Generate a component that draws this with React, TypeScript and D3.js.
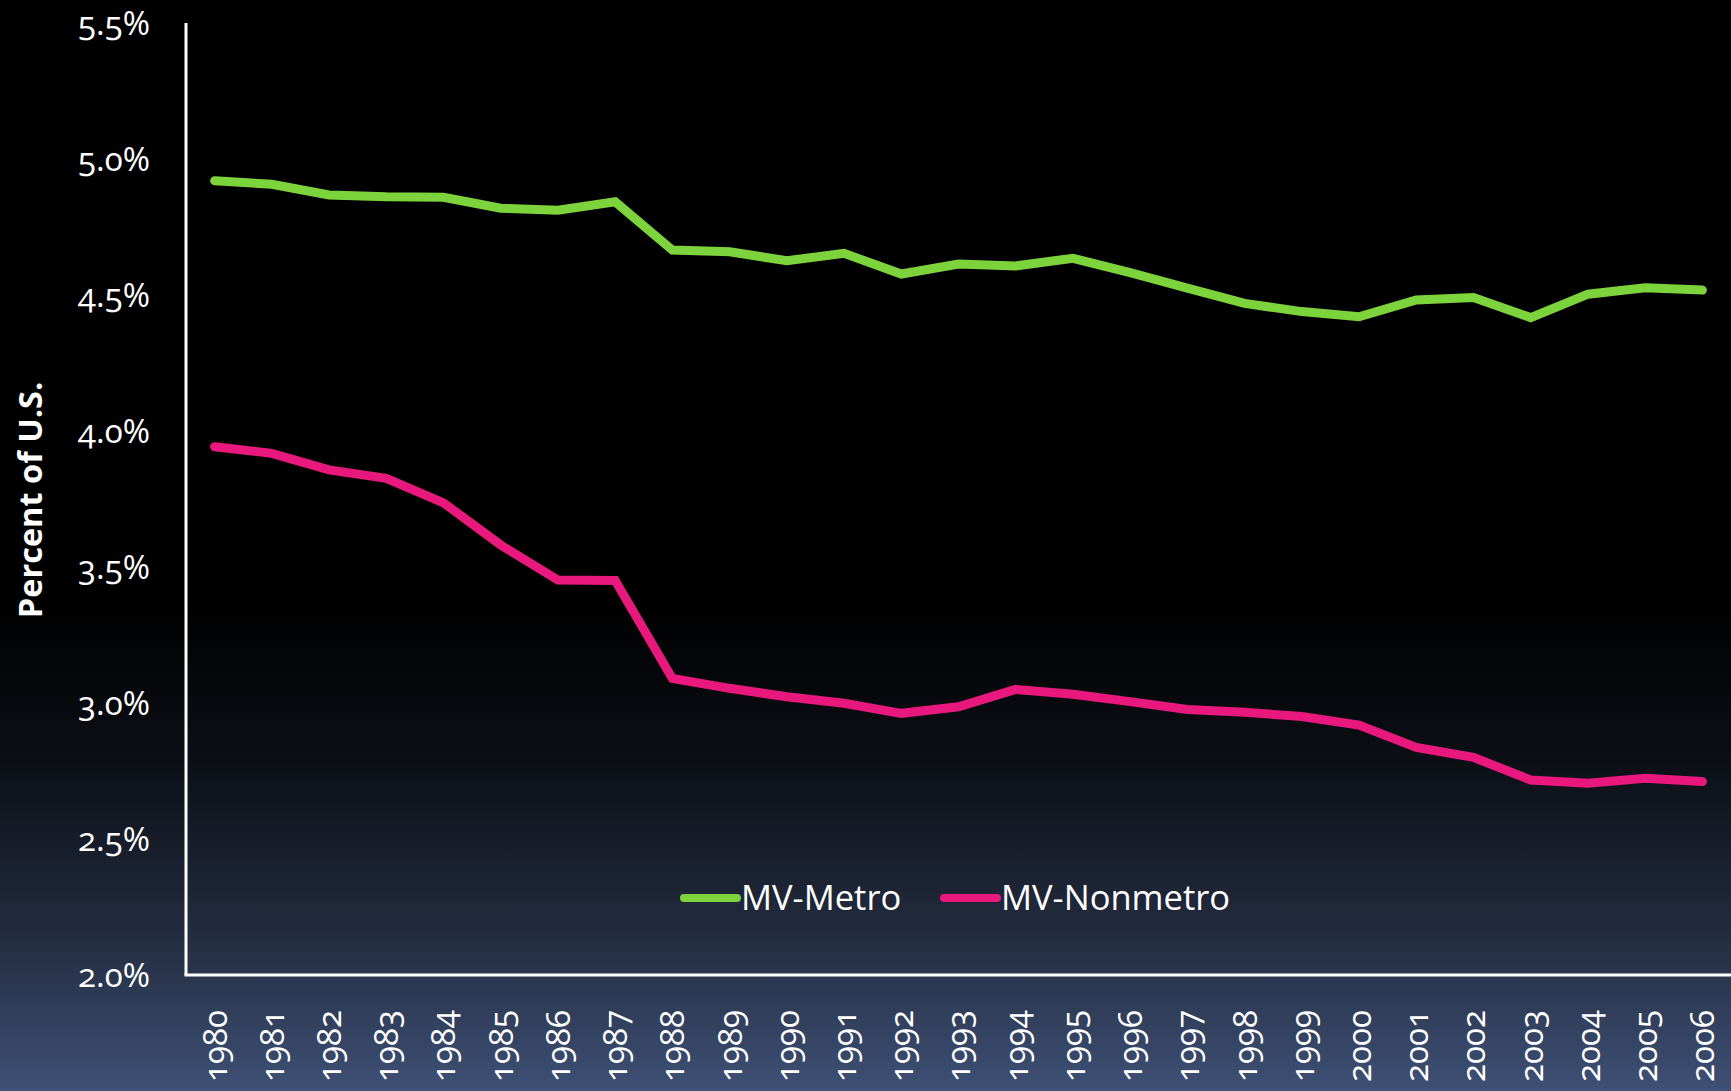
import React, { useEffect, useRef } from "react";
import * as d3 from "d3";

const years = [
  "1980", "1981", "1982", "1983", "1984", "1985", "1986", "1987", "1988",
  "1989", "1990", "1991", "1992", "1993", "1994", "1995", "1996", "1997",
  "1998", "1999", "2000", "2001", "2002", "2003", "2004", "2005", "2006",
];

const metro = [
  4.92, 4.907, 4.868, 4.861, 4.859, 4.819, 4.812, 4.843, 4.665, 4.659, 4.626,
  4.653, 4.577, 4.614, 4.607, 4.635, 4.582, 4.525, 4.469, 4.439, 4.42, 4.482,
  4.491, 4.417, 4.503, 4.527, 4.518,
];

const nonmetro = [
  3.942, 3.918, 3.857, 3.826, 3.736, 3.581, 3.452, 3.45, 3.09, 3.054, 3.023,
  2.999, 2.962, 2.986, 3.05, 3.032, 3.005, 2.976, 2.966, 2.95, 2.919, 2.837,
  2.8, 2.717, 2.705, 2.723, 2.711,
];

const yTicks = [2.0, 2.5, 3.0, 3.5, 4.0, 4.5, 5.0, 5.5];

const seriesList = [
  { name: "MV-Metro", values: metro, color: "#7dd33b" },
  { name: "MV-Nonmetro", values: nonmetro, color: "#e8187c" },
];

const W = 1731;
const H = 1091;

export default function App() {
  const svgRef = useRef<SVGSVGElement | null>(null);

  useEffect(() => {
    const svg = d3.select(svgRef.current);
    svg.selectAll("*").remove();

    const left = 186;
    const top = 23;
    const bottom = 975;

    const defs = svg.append("defs");
    const grad = defs
      .append("linearGradient")
      .attr("id", "bg")
      .attr("x1", 0)
      .attr("y1", 0)
      .attr("x2", 0)
      .attr("y2", 1);
    [
      [0, "#000000"],
      [0.55, "#000000"],
      [0.7, "#0c0f16"],
      [0.85, "#222b3e"],
      [1, "#3e5075"],
    ].forEach(([o, c]) =>
      grad.append("stop").attr("offset", o as number).attr("stop-color", c as string),
    );

    svg
      .append("rect")
      .attr("width", W)
      .attr("height", H)
      .attr("fill", "url(#bg)");

    const x = d3.scaleBand<string>().domain(years).range([left, W]);
    const y = d3.scaleLinear().domain([2, 5.5]).range([bottom, top]);
    const cx = (d: string) => (x(d) ?? 0) + x.bandwidth() / 2;

    // y tick labels
    svg
      .append("g")
      .selectAll("text")
      .data(yTicks)
      .join("text")
      .attr("x", 150)
      .attr("y", (d) => y(d))
      .attr("dy", "0.35em")
      .attr("text-anchor", "end")
      .attr("font-family", "'Open Sans', sans-serif")
      .attr("font-size", 33)
      .style("font-variant-numeric", "oldstyle-nums")
      .attr("fill", "#ffffff")
      .text((d) => d.toFixed(1) + "%");

    // y axis title
    svg
      .append("text")
      .attr("transform", `translate(31, 500) rotate(-90)`)
      .attr("dy", "0.35em")
      .attr("text-anchor", "middle")
      .attr("font-family", "'Open Sans', sans-serif")
      .attr("font-weight", 700)
      .attr("font-size", 32.5)
      .attr("fill", "#ffffff")
      .text("Percent of U.S.");

    // x labels
    svg
      .append("g")
      .selectAll("text")
      .data(years)
      .join("text")
      .attr("transform", (d) => `translate(${cx(d)}, 1010) rotate(-90)`)
      .attr("dy", "0.36em")
      .attr("text-anchor", "end")
      .attr("font-family", "'Open Sans', sans-serif")
      .attr("font-size", 33)
      .style("font-variant-numeric", "oldstyle-nums")
      .attr("fill", "#ffffff")
      .text((d) => d);

    // lines
    const line = d3
      .line<number>()
      .x((_, i) => cx(years[i]))
      .y((d) => y(d));

    seriesList.forEach((s) => {
      svg
        .append("path")
        .datum(s.values)
        .attr("d", line)
        .attr("fill", "none")
        .attr("stroke", s.color)
        .attr("stroke-width", 9)
        .attr("stroke-linejoin", "miter")
        .attr("stroke-linecap", "round");
    });

    // axes
    svg
      .append("line")
      .attr("x1", left)
      .attr("x2", left)
      .attr("y1", top)
      .attr("y2", bottom)
      .attr("stroke", "#ffffff")
      .attr("stroke-width", 3);
    svg
      .append("line")
      .attr("x1", left - 1.5)
      .attr("x2", W)
      .attr("y1", bottom)
      .attr("y2", bottom)
      .attr("stroke", "#ffffff")
      .attr("stroke-width", 3);

    // legend
    const legendX = [684, 944];
    const legendY = 898;
    seriesList.forEach((s, i) => {
      const g = svg.append("g").attr("transform", `translate(${legendX[i]}, ${legendY})`);
      g.append("line")
        .attr("x1", 0)
        .attr("x2", 53)
        .attr("stroke", s.color)
        .attr("stroke-width", 8)
        .attr("stroke-linecap", "round");
      g.append("text")
        .attr("x", 57)
        .attr("dy", "0.35em")
        .attr("font-family", "'Open Sans', sans-serif")
        .attr("font-size", 34.5)
        .attr("fill", "#ffffff")
        .text(s.name);
    });
  }, []);

  return (
    <svg
      ref={svgRef}
      width={W}
      height={H}
      style={{ position: "absolute", left: 0, top: 0, display: "block" }}
    />
  );
}
